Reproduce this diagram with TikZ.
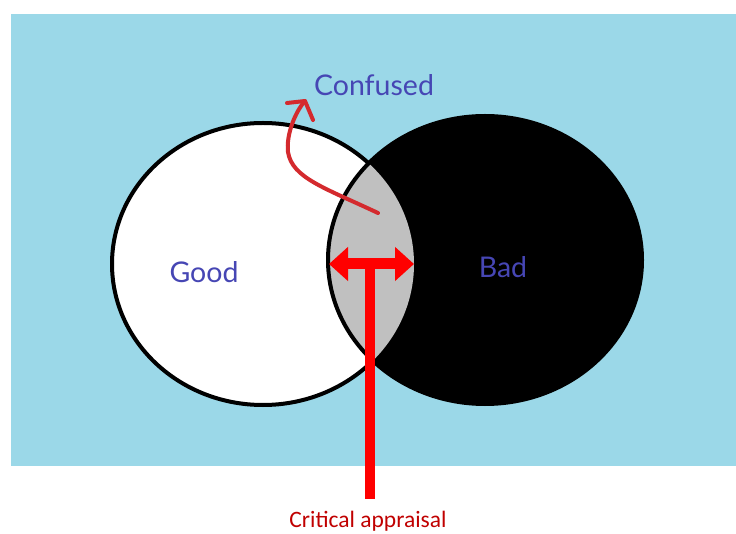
\documentclass[tikz,border=0pt]{standalone}
\usepackage{fontspec}
\setmainfont{Carlito}
\newfontfamily\handfont{Lato}
\usetikzlibrary{arrows.meta}
\definecolor{bgblue}{HTML}{9BD8E8}
\definecolor{labelblue}{HTML}{4646B4}
\definecolor{curvered}{HTML}{D42A2E}
\definecolor{capred}{HTML}{C00000}
\definecolor{overlapgrey}{HTML}{C0C0C0}
\begin{document}
\begin{tikzpicture}[x=1pt,y=-1pt,
  ringline/.style={line width=4pt},
  hand/.style={font=\handfont\fontsize{28.5}{32}\selectfont, text=labelblue, inner sep=0pt},
  caption/.style={font=\fontsize{23.5}{28}\selectfont, text=capred, inner sep=0pt},
  redbar/.style={red, line width=11pt},
  curvearrow/.style={curvered, line width=4pt, line cap=round, line join=round}]
\useasboundingbox (0,0) rectangle (736,534);
\fill[bgblue] (11,14) rectangle (736,466);
% circles
\fill[white] (263,264) ellipse [x radius=151pt, y radius=141pt];
\draw[ringline] (263,264) ellipse [x radius=151pt, y radius=141pt];
\fill[black] (485,260) ellipse [x radius=157pt, y radius=144pt];
\begin{scope}
  \clip (263,264) ellipse [x radius=151pt, y radius=141pt];
  \fill[overlapgrey] (485,260) ellipse [x radius=157pt, y radius=144pt];
\end{scope}
\draw[ringline] (485,260) ellipse [x radius=157pt, y radius=144pt];
% labels
\node[hand] (good) at (204,272) {Good};
\node[hand] (bad) at (503,267) {Bad};
\node[hand] (confused) at (374,85) {Confused};
\node[caption] (cap) at (368,521) {Critical appraisal};
% curved arrow to Confused
\coordinate (cstart) at (378,213);
\coordinate (ctip) at (305,101);
\draw[curvearrow] (cstart) .. controls (325,188) and (292,178) .. (288,152)
  .. controls (286,135) and (295,112) .. (ctip);
\draw[curvearrow] (287,103) -- (ctip) -- (313,120);
% critical appraisal T-arrow
\coordinate (L) at (329,264);
\coordinate (R) at (414,264);
\coordinate (M) at (370,264);
\coordinate (stemend) at (370,499);
\draw[redbar, {Triangle[length=19pt,width=33pt]}-{Triangle[length=19pt,width=33pt]}] (L) -- (R);
\draw[red, line width=10pt] (M) -- (stemend);
\end{tikzpicture}
\end{document}
